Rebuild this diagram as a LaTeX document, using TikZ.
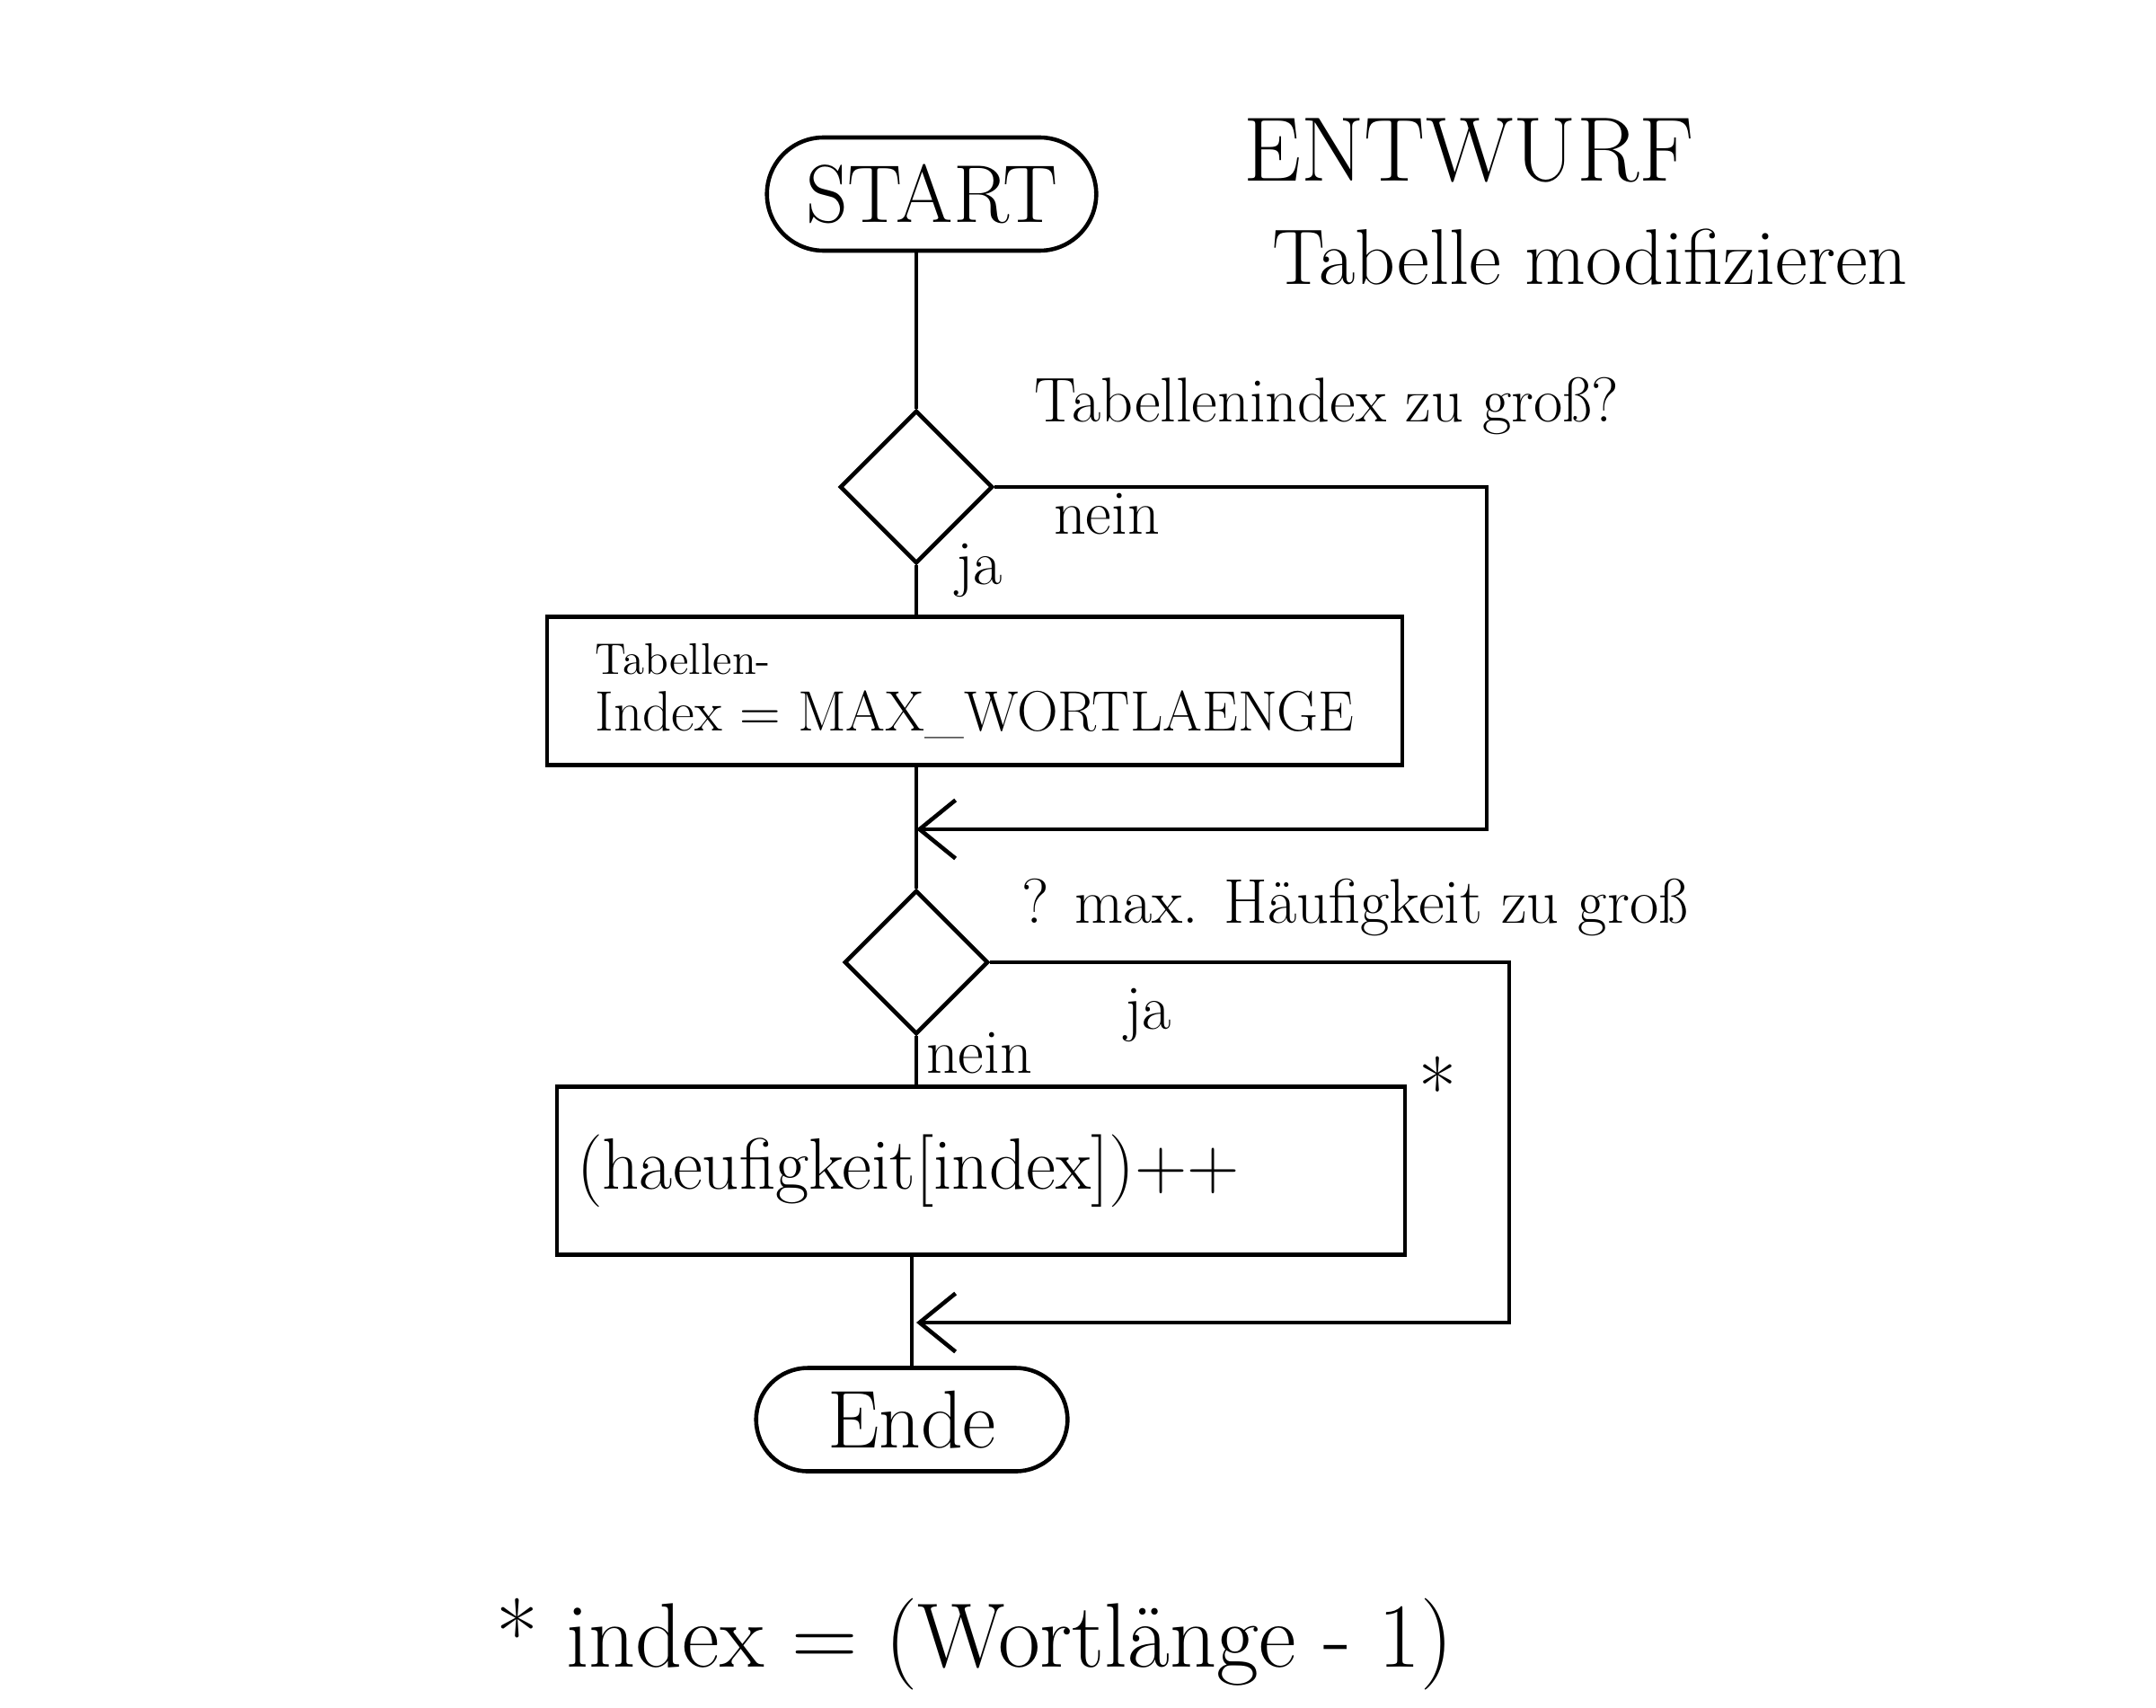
\documentclass[tikz,border=0pt]{standalone}
\usepackage{tikz}
\usetikzlibrary{arrows.meta,shapes.geometric,shapes.misc}
\newcommand{\txtsize}[1]{\fontsize{#1}{#1}\selectfont}

\begin{document}
\begin{tikzpicture}[line width=1.3pt,
  term/.style={rounded rectangle,draw,minimum width=3.9cm,minimum height=1.26cm,font=\txtsize{26}},
  decide/.style={diamond,draw,aspect=1,inner sep=0pt,minimum size=1.7cm},
  proc/.style={rectangle,draw,align=left},
  back/.style={-{Straight Barb[length=4mm,width=6.5mm]}},
  lbl/.style={font=\txtsize{20}}]
  \useasboundingbox (0,0) rectangle (24,-19);
  % heading
  \node[font=\txtsize{29}] (title) at (16.35,-1.68) {ENTWURF};
  \node[font=\txtsize{25}] (subtitle) at (17.7,-2.86) {Tabelle modifizieren};
  % steps
  \node[term] (start) at (10.37,-2.16) {START};
  \node[decide] (chkidx) at (10.2,-5.42) {};
  \node[proc,minimum width=9.52cm,minimum height=1.65cm,font=\txtsize{18}] (setidx) at (10.85,-7.69)
     {{\txtsize{14}Tabellen-}\\Index = MAX\_WORTLAENGE};
  \node[decide,minimum size=1.6cm] (chkfreq) at (10.2,-10.71) {};
  \node[proc,minimum height=1.87cm,text width=9.0cm,inner xsep=0.22cm,font=\txtsize{23}] (incfreq) at (10.92,-13.03)
     {(haeufigkeit[index])++};
  \node[term,minimum width=3.7cm,minimum height=1.15cm] (ende) at (10.15,-15.8) {Ende};
  % merge points and corners
  \coordinate (m1) at (10.2,-9.23);
  \coordinate (r1) at (16.55,-9.23);
  \coordinate (m2) at (10.2,-14.72);
  \coordinate (r2) at (16.8,-14.72);
  % main line
  \draw (start.south -| chkidx.north) -- (chkidx.north);
  \draw (chkidx.south) -- (chkidx.south |- setidx.north);
  \draw (setidx.south -| chkfreq.north) -- (chkfreq.north);
  \draw (chkfreq.south) -- (chkfreq.south |- incfreq.north);
  \draw (incfreq.south -| ende.north) -- (ende.north);
  % bypass lines
  \draw[back] (chkidx.east) -| (r1) -- (m1);
  \draw[back] (chkfreq.east) -| (r2) -- (m2);
  % labels
  \node[lbl] (q1) at (14.77,-4.52) {Tabellenindex zu groß?};
  \node[lbl] (no1) at (12.32,-5.72) {nein};
  \node[lbl] (yes1) at (10.9,-6.35) {ja};
  \node[lbl] (q2) at (15.08,-10.1) {? max. Häufigkeit zu groß};
  \node[lbl] (yes2) at (12.78,-11.3) {ja};
  \node[lbl] (no2) at (10.9,-11.72) {nein};
  \node[font=\txtsize{26}] (star) at (16.0,-12.1) {*};
  % footnote
  \node[font=\txtsize{29}] (note) at (10.85,-18.3) {* index = (Wortlänge - 1)};
\end{tikzpicture}
\end{document}
